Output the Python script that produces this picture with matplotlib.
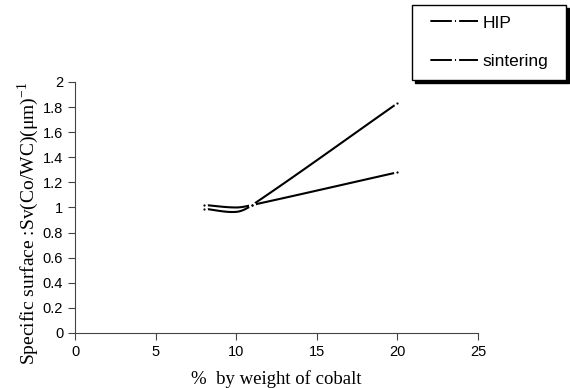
import numpy as np
import matplotlib
matplotlib.use('Agg')
import matplotlib.pyplot as plt
from matplotlib.lines import Line2D

# data
cobalt = [8, 10, 11, 20]
hip = [0.99, 0.965, 1.02, 1.83]
sintering = [1.02, 1.00, 1.02, 1.28]
labels = ['HIP', 'sintering']
xticks = [0, 5, 10, 15, 20, 25]
yticks = [0, 0.2, 0.4, 0.6, 0.8, 1, 1.2, 1.4, 1.6, 1.8, 2]
dot_idx = [0, 2, 3]  # where the dash-dot pattern puts its little dot


def smooth(x, y, n=30):
    # cubic hermite through the points, tangents from neighbours
    x = np.asarray(x, float)
    y = np.asarray(y, float)
    m = np.zeros(len(x))
    m[0] = (y[1] - y[0]) / (x[1] - x[0])
    m[-1] = (y[-1] - y[-2]) / (x[-1] - x[-2])
    for i in range(1, len(x) - 1):
        m[i] = (y[i + 1] - y[i - 1]) / (x[i + 1] - x[i - 1])
    xs, ys = [], []
    for i in range(len(x) - 1):
        h = x[i + 1] - x[i]
        t = np.linspace(0, 1, n)
        h00 = 2 * t**3 - 3 * t**2 + 1
        h10 = t**3 - 2 * t**2 + t
        h01 = -2 * t**3 + 3 * t**2
        h11 = t**3 - t**2
        xs.append(x[i] + t * h)
        ys.append(h00 * y[i] + h10 * h * m[i] + h01 * y[i + 1] + h11 * h * m[i + 1])
    return np.concatenate(xs), np.concatenate(ys)


plt.rcParams['font.family'] = 'Liberation Sans'
plt.rcParams['mathtext.fontset'] = 'custom'
plt.rcParams['mathtext.rm'] = 'Liberation Serif'
plt.rcParams['lines.scale_dashes'] = False

fig = plt.figure(figsize=(5.7, 3.88), dpi=100)
ax = fig.add_axes([0.1316, 0.1418, 0.707, 0.647])

for ys in [hip, sintering]:
    sx, sy = smooth(cobalt, ys)
    ax.plot(sx, sy, color='black', lw=1.5, zorder=2)
    ax.plot(cobalt, ys, ls='none', marker='o', ms=5, mfc='white', mec='none',
            markevery=dot_idx, zorder=3)
for ys in [hip, sintering]:
    ax.plot(cobalt, ys, ls='none', marker='o', ms=1.6, mfc='black', mec='none',
            markevery=dot_idx, zorder=4)

ax.set_xlim(0, 25)
ax.set_ylim(0, 2)
ax.set_xticks(xticks)
ax.set_yticks(yticks)
ax.set_yticklabels([('%g' % v) for v in yticks])
ax.tick_params(labelsize=10.5, length=5, color='#444444', direction='out', pad=3.5)
for s in ['top', 'right']:
    ax.spines[s].set_visible(False)
for s in ['left', 'bottom']:
    ax.spines[s].set_color('#444444')

ax.set_xlabel('%  by weight of cobalt', family='Liberation Serif', fontsize=13.5, labelpad=8)
ax.set_ylabel(r'Specific surface :Sv(Co/WC)($\mathrm{\mu}$m)$^{\mathrm{-1}}$',
              family='Liberation Serif', fontsize=14)
ax.yaxis.set_label_coords(-0.084, 0.438)

# legend handle: leading gap, long dash, dot, long dash
handles = [Line2D([], [], color='black', lw=1.4,
                  dashes=(0.01, 6, 15.5, 2.2, 0.8, 2.2, 15.5, 100)) for _ in labels]
fig.legend(handles, labels, loc='upper left', mode='expand',
           bbox_to_anchor=(412 / 570, 0, 154 / 570, 1 - 5 / 388), borderaxespad=0,
           fontsize=12.5, handlelength=3.2, handletextpad=0.25, labelspacing=1.35,
           borderpad=0.6, fancybox=False, edgecolor='black', framealpha=1,
           shadow={'color': 'black', 'alpha': 1, 'ox': 2.5, 'oy': -2.5})

fig.savefig('out.png', dpi=100)
